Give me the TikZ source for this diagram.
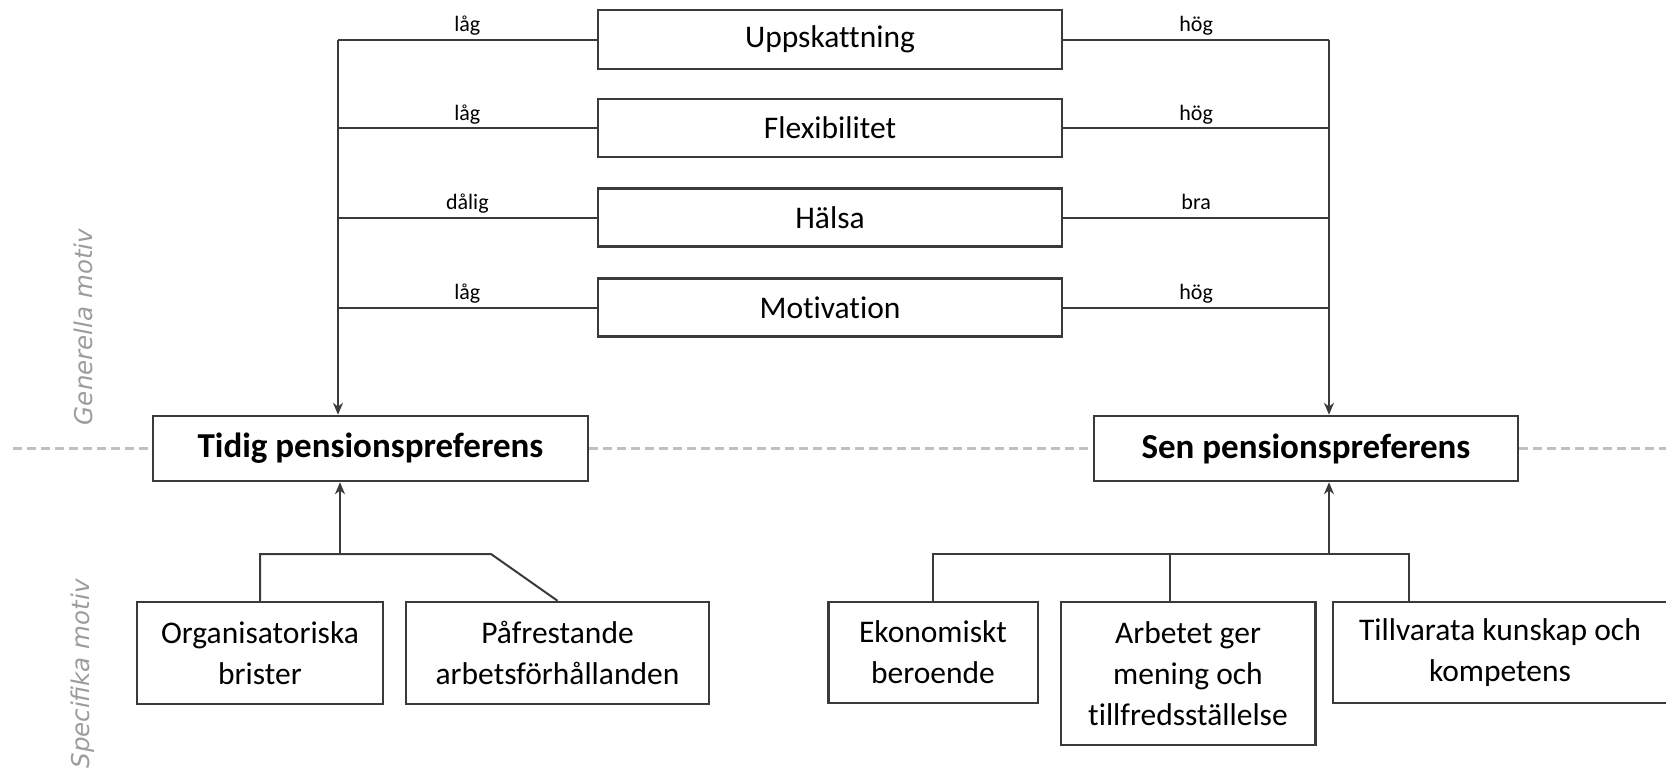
\documentclass[tikz,border=0pt]{standalone}
\usepackage{fontspec}
\setmainfont{Carlito}[Ligatures=NoCommon]
\newfontfamily\sidefont{DejaVu Sans}
\usetikzlibrary{arrows.meta}
\definecolor{linec}{HTML}{3A3A3A}
\definecolor{sidec}{HTML}{9C9C9C}
\definecolor{dashc}{HTML}{C0C0C0}
\begin{document}
\begin{tikzpicture}[x=1pt,y=-1pt,
  box/.style={draw=linec, line width=2.5pt, inner sep=0pt, align=center,
    font=\fontsize{31.5}{41}\selectfont},
  titlebox/.style={box, font=\fontsize{35}{42}\selectfont\bfseries},
  conn/.style={draw=linec, line width=2pt},
  arr/.style={conn, -{Stealth[length=12pt,width=10pt]}},
  lbl/.style={midway, anchor=base, yshift=8pt, inner sep=0pt,
    font=\fontsize{22}{26}\selectfont},
  side/.style={rotate=90, text=sidec, inner sep=0pt,
    font=\sidefont\itshape\fontsize{24.5}{28}\selectfont},
  dashline/.style={draw=dashc, line width=3pt, dash pattern=on 9pt off 5pt}]
\useasboundingbox (0,0) rectangle (1666,769);

% side labels
\node[side] (gen) at (83,327) {Generella motiv};
\node[side] (spec) at (83,674) {Specifika motiv};

% main nodes
\node[titlebox, minimum width=435pt, minimum height=65pt] (tidig) at (370.5,448.5) {Tidig pensionspreferens};
\node[titlebox, minimum width=424pt, minimum height=65pt] (sen) at (1306,448.5) {Sen pensionspreferens};

% dashed separator
\coordinate (dl) at (13,448.5);
\coordinate (dr) at (1666,448.5);
\draw[dashline] (dl) -- (tidig.west);
\draw[dashline] (tidig.east) -- (sen.west);
\draw[dashline] (sen.east) -- (dr);

% general motives
\node[box, minimum width=464pt, minimum height=59pt] (upp) at (830,39.5) {Uppskattning};
\node[box, minimum width=464pt, minimum height=58pt] (flex) at (830,128) {Flexibilitet};
\node[box, minimum width=464pt, minimum height=58pt] (hals) at (830,217.5) {Hälsa};
\node[box, minimum width=464pt, minimum height=58pt] (mot) at (830,307.5) {Motivation};

\coordinate (lv) at (338,0);
\coordinate (rv) at (1329,0);

\draw[conn] (upp.west) -- node[lbl] {låg} (upp.west -| lv);
\draw[conn] (flex.west) -- node[lbl] {låg} (flex.west -| lv);
\draw[conn] (hals.west) -- node[lbl] {dålig} (hals.west -| lv);
\draw[conn] (mot.west) -- node[lbl] {låg} (mot.west -| lv);
\draw[arr] (upp.west -| lv) -- (lv |- tidig.north);

\draw[conn] (upp.east) -- node[lbl] {hög} (upp.east -| rv);
\draw[conn] (flex.east) -- node[lbl] {hög} (flex.east -| rv);
\draw[conn] (hals.east) -- node[lbl] {bra} (hals.east -| rv);
\draw[conn] (mot.east) -- node[lbl] {hög} (mot.east -| rv);
\draw[arr] (upp.east -| rv) -- (rv |- sen.north);

% specific motives (early)
\node[box, minimum width=246pt, minimum height=102pt] (org) at (260,653) {Organisatoriska\\brister};
\node[box, minimum width=303pt, minimum height=102pt] (paf) at (557.5,653) {Påfrestande\\arbetsförhållanden};

\coordinate (tj) at (340,554);
\coordinate (tk) at (491,554);
\draw[arr] (tj) -- (tj |- tidig.south);
\draw[conn] (org.north) -- (org.north |- tj) -- (tk) -- (paf.north);

% specific motives (late)
\node[box, minimum width=209.5pt, minimum height=101pt] (eko) at (933,652.5) {Ekonomiskt\\beroende};
\node[box, minimum width=254.5pt, minimum height=143pt] (arb) at (1188,673.5) {Arbetet ger\\mening och\\tillfredsställelse};
\node[box, minimum width=334pt, minimum height=101pt] (till) at (1500,652.5) {Tillvarata kunskap och\\kompetens};

\coordinate (sj) at (1329,554);
\coordinate (d2) at (1170,554);
\coordinate (d3) at (1409,554);
\draw[arr] (sj) -- (sj |- sen.south);
\draw[conn] (eko.north) -- (eko.north |- sj) -- (d3) -- (d3 |- till.north);
\draw[conn] (d2) -- (d2 |- arb.north);
\end{tikzpicture}
\end{document}
